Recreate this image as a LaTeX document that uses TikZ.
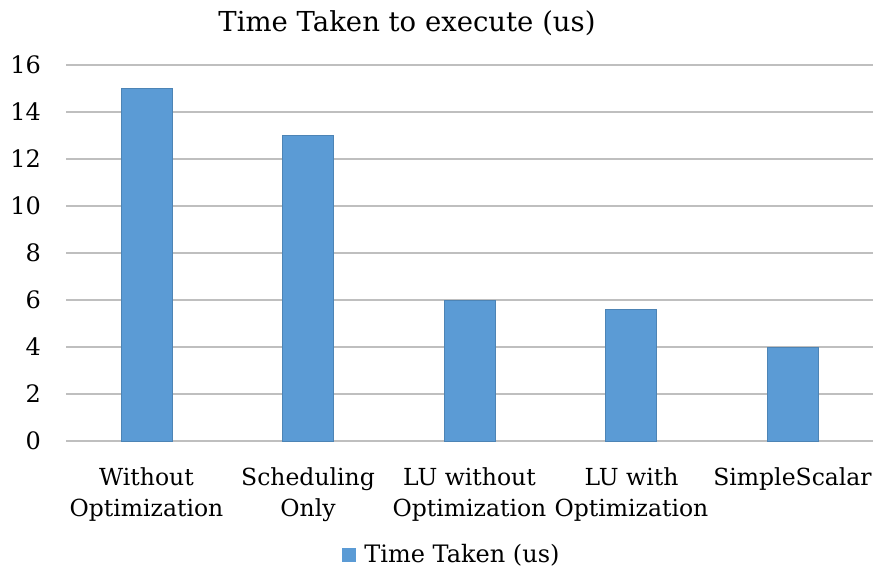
\documentclass[tikz,border=0pt]{standalone}
\usepackage{fontspec}
\setmainfont{DejaVu Serif}
\usetikzlibrary{positioning}

\definecolor{barblue}{HTML}{5B9BD5}
\definecolor{gridgray}{HTML}{BFBFBF}

\tikzset{
  bar/.style={fill=barblue, draw=barblue!85!black, line width=0.4pt},
  gridline/.style={gridgray, line width=1.5pt},
  ticklabel/.style={anchor=east, inner sep=0pt, font=\fontsize{24}{28}\selectfont},
  catlabel/.style={anchor=north, align=center, inner sep=0pt, font=\fontsize{23.5}{31}\selectfont},
}

\begin{document}
\begin{tikzpicture}[x=1pt, y=1pt]

  % Canvas
  \useasboundingbox (0,0) rectangle (873,569);

  % Axis scale: value 0 at y=128, 23.5pt per unit
  \def\yzero{128}
  \def\yunit{23.5}
  \def\bw{51}

  % Gridlines and tick labels
  \foreach \v in {0,2,...,16} {
    \coordinate (g\v) at (66,\yzero+\v*\yunit);
    \draw[gridline] (g\v) -- ++(807,0);
    \node[ticklabel] (t\v) at (41,\yzero+\v*\yunit) {\v};
  }

  % Bars
  \foreach \i/\val in {0/15, 1/13, 2/6, 3/5.6, 4/4} {
    \coordinate (c\i) at (146.5+\i*161.5,\yzero);
    \draw[bar] ([xshift=-\bw/2]c\i) rectangle ([xshift=\bw/2]c\i |- 0,\yzero+\val*\yunit);
  }

  % Category labels
  \node[catlabel] (l0) at (146.5,102) {Without\\Optimization};
  \node[catlabel] (l1) at (308,102) {Scheduling\\Only};
  \node[catlabel] (l2) at (469.5,102) {LU without\\Optimization};
  \node[catlabel] (l3) at (631.5,102) {LU with\\Optimization};
  \node[catlabel] (l4) at (792.5,102) {SimpleScalar};

  % Title
  \node[font=\fontsize{27.5}{32}\selectfont] (title) at (407,546) {Time Taken to execute (us)};

  % Legend
  \node[fill=barblue, minimum size=14pt, inner sep=0pt] (key) at (349,14) {};
  \node[right=8pt of key, inner sep=0pt, font=\fontsize{24}{28}\selectfont] (legend) {Time Taken (us)};

\end{tikzpicture}
\end{document}
